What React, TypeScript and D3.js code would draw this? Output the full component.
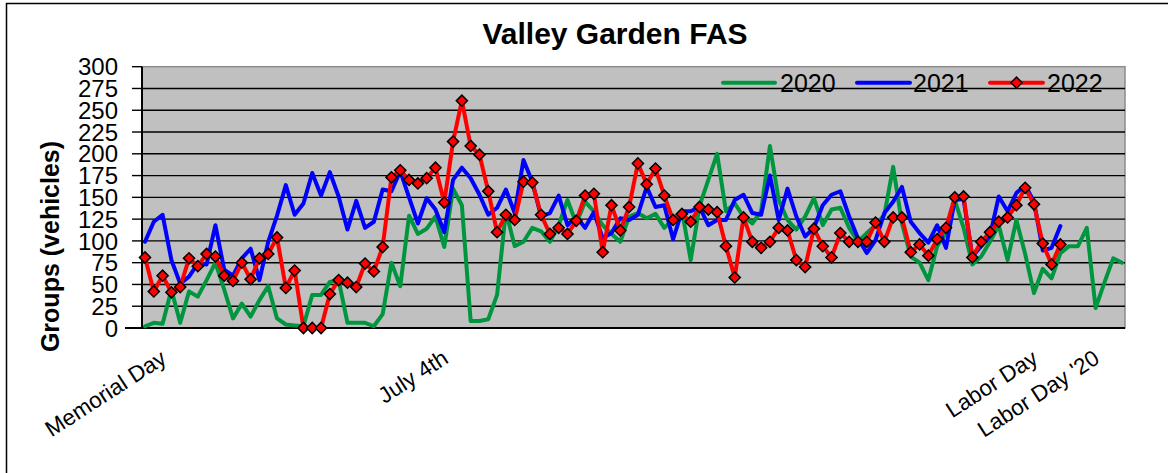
import React from "react";
import * as d3 from "d3";

// ---------- data ----------
const series2020: number[] = [
  2, 6, 5, 44, 6, 42, 36, 55, 75, 44, 11, 28, 13, 32, 48, 11, 4, 3, 2, 38,
  38, 53, 55, 6, 6, 6, 2, 16, 75, 48, 129, 108, 114, 128, 93, 160, 141, 8, 8, 10,
  38, 134, 94, 99, 115, 111, 99, 118, 147, 120, 145, 134, 118, 108, 99, 128, 132, 126, 131, 115,
  125, 135, 78, 140, 170, 200, 134, 143, 128, 120, 134, 209, 147, 124, 113, 128, 149, 118, 136, 138,
  115, 99, 109, 118, 130, 185, 120, 82, 75, 55, 94, 109, 147, 115, 73, 82, 99, 118, 78, 124,
  85, 40, 68, 57, 86, 94, 94, 115, 23, 52, 80, 75,
];
const series2021: number[] = [
  99, 122, 130, 78, 51, 59, 74, 73, 118, 67, 60, 80, 91, 55, 99, 129, 164, 130, 143, 178,
  152, 179, 151, 113, 146, 115, 122, 159, 157, 180, 150, 120, 149, 136, 110, 170, 184, 172, 153, 130,
  138, 159, 132, 193, 168, 128, 132, 152, 118, 128, 115, 133, 103, 109, 126, 124, 130, 162, 139, 141,
  102, 134, 134, 139, 118, 124, 124, 147, 153, 132, 130, 175, 124, 160, 128, 105, 115, 141, 153, 157,
  128, 103, 86, 101, 132, 145, 162, 122, 109, 98, 118, 92, 147, 148, 82, 94, 106, 151, 134, 155,
  164, 145, 89, 92, 117,
];
const series2022: number[] = [
  81, 42, 60, 41, 47, 80, 71, 85, 82, 60, 54, 75, 56, 80, 85, 104, 46, 66, 0, 0,
  0, 39, 55, 52, 47, 74, 65, 93, 173, 181, 170, 166, 172, 184, 144, 214, 261, 209, 199, 157,
  110, 130, 124, 168, 167, 130, 108, 115, 108, 123, 152, 154, 87, 141, 112, 139, 189, 165, 183, 152,
  124, 131, 122, 139, 136, 133, 94, 58, 127, 99, 92, 99, 115, 112, 78, 70, 114, 94, 81, 109,
  99, 99, 99, 121, 99, 127, 127, 87, 96, 83, 102, 115, 150, 151, 81, 99, 110, 122, 127, 141,
  161, 142, 97, 73, 96,
];
const categoryCount = 112;
const xLabels: string[] = ["Memorial Day", "July 4th", "Labor Day", "Labor Day '20"];
const xLabelIndex: number[] = [0, 32, 99, 106];
const yTicks: number[] = [0, 25, 50, 75, 100, 125, 150, 175, 200, 225, 250, 275, 300];
const seriesNames: string[] = ["2020", "2021", "2022"];
const seriesColors: string[] = ["#00963F", "#0000FF", "#FF0000"];

const FONT = "'Liberation Sans', Arial, Helvetica, sans-serif";

export default function App() {
  const W = 1168;
  const H = 473;
  const plotL = 142;
  const plotR = 1125;
  const plotT = 66.7;
  const plotB = 328;

  const x = d3.scaleLinear().domain([0, categoryCount - 1]).range([145, 1122]);
  const y = d3.scaleLinear().domain([0, 300]).range([plotB, plotT]);

  const line = d3
    .line<number>()
    .x((_, i) => x(i))
    .y((d) => y(d));

  const allSeries = [series2020, series2021, series2022];
  const diamond = d3.symbol().type(d3.symbolSquare).size(62)() as string;

  const legendItems = [
    { x0: 723, x1: 775, tx: 780 },
    { x0: 857, x1: 910, tx: 913 },
    { x0: 990, x1: 1043, tx: 1047 },
  ];
  const legendY = 82.7;

  return (
    <svg
      width={W}
      height={H}
      style={{ position: "absolute", left: 0, top: 0, background: "#fff" }}
      fontFamily={FONT}
    >
      <rect x={0} y={0} width={W} height={H} fill="#fff" />
      {/* outer chart border */}
      <rect x={6.5} y={3.5} width={W + 20} height={H + 20} fill="none" stroke="#000" strokeWidth={1.5} />

      {/* title */}
      <text x={615} y={44} textAnchor="middle" fontSize={30} fontWeight="bold" fill="#000">
        Valley Garden FAS
      </text>

      {/* plot area */}
      <rect x={plotL} y={plotT} width={plotR - plotL} height={plotB - plotT} fill="#C0C0C0" stroke="#8c8c8c" strokeWidth={1.5} />

      {/* gridlines */}
      {yTicks
        .filter((t) => t > 0 && t < 300)
        .map((t) => (
          <line key={"g" + t} x1={plotL} x2={plotR} y1={y(t)} y2={y(t)} stroke="#000" strokeWidth={1.4} />
        ))}

      {/* y axis */}
      <line x1={plotL} x2={plotL} y1={plotT} y2={plotB} stroke="#000" strokeWidth={2} />
      {yTicks.map((t) => (
        <g key={"t" + t}>
          <line x1={132} x2={plotL} y1={y(t)} y2={y(t)} stroke="#000" strokeWidth={1.4} />
          <text x={118} y={y(t)} dy="0.36em" textAnchor="end" fontSize={24} fill="#000">
            {t}
          </text>
        </g>
      ))}
      <text
        transform={`translate(59,246.5) rotate(-90)`}
        textAnchor="middle"
        fontSize={25}
        fontWeight="bold"
        fill="#000"
      >
        Groups (vehicles)
      </text>

      {/* x axis */}
      <line x1={125} x2={plotR} y1={plotB} y2={plotB} stroke="#000" strokeWidth={2} />
      {xLabels.map((lab, i) => (
        <text
          key={lab}
          transform={`translate(${x(xLabelIndex[i]) + 23},362) rotate(-33)`}
          textAnchor="end"
          fontSize={22.5}
          fill="#000"
        >
          {lab}
        </text>
      ))}

      {/* series */}
      {allSeries.map((s, si) => (
        <path
          key={"s" + si}
          d={line(s) as string}
          fill="none"
          stroke={seriesColors[si]}
          strokeWidth={4}
          strokeLinejoin="round"
          strokeLinecap="round"
        />
      ))}
      {series2022.map((v, i) => (
        <path
          key={"m" + i}
          d={diamond}
          transform={`translate(${x(i)},${y(v)}) rotate(45)`}
          fill="#FF0000"
          stroke="#000"
          strokeWidth={1.5}
        />
      ))}

      {/* legend */}
      {legendItems.map((it, i) => (
        <g key={"l" + i}>
          <line x1={it.x0} x2={it.x1} y1={legendY} y2={legendY} stroke={seriesColors[i]} strokeWidth={4} strokeLinecap="round" />
          {i === 2 && (
            <path
              d={diamond}
              transform={`translate(${(it.x0 + it.x1) / 2},${legendY}) rotate(45)`}
              fill="#FF0000"
              stroke="#000"
              strokeWidth={1.5}
            />
          )}
          <text x={it.tx} y={legendY} dy="0.36em" fontSize={25} fill="#000">
            {seriesNames[i]}
          </text>
        </g>
      ))}
    </svg>
  );
}
